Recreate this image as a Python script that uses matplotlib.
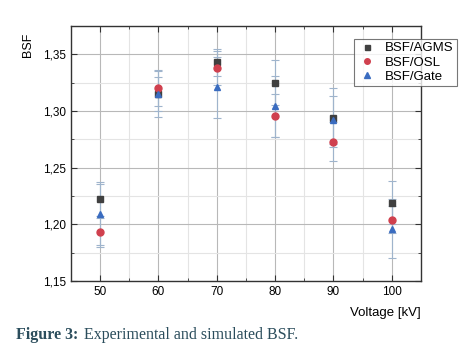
import matplotlib
matplotlib.use("Agg")
import matplotlib.pyplot as plt
from matplotlib.ticker import MultipleLocator, FuncFormatter

voltage = [50, 60, 70, 80, 90, 100]
bsf_agms = [1.222, 1.315, 1.343, 1.325, 1.294, 1.219]
bsf_osl = [1.193, 1.320, 1.338, 1.296, 1.273, 1.204]
bsf_gate = [1.209, 1.315, 1.321, 1.304, 1.292, 1.196]
err_agms = [0.015, 0.020, 0.012, 0.020, 0.026, 0.019]
err_osl = [0.013, 0.016, 0.015, 0.019, 0.017, 0.012]
err_gate = [0.027, 0.015, 0.027, 0.027, 0.021, 0.026]

plt.rcParams['font.family'] = ['Liberation Sans', 'DejaVu Sans']

fig = plt.figure(figsize=(4.75, 3.59), dpi=100)
ax = fig.add_axes([0.1495, 0.2173, 0.7365, 0.7103])

ax.set_xlim(45, 105)
ax.set_ylim(1.15, 1.375)
ax.xaxis.set_major_locator(MultipleLocator(10))
ax.xaxis.set_minor_locator(MultipleLocator(5))
ax.yaxis.set_major_locator(MultipleLocator(0.05))
ax.yaxis.set_minor_locator(MultipleLocator(0.025))
ax.yaxis.set_major_formatter(FuncFormatter(lambda v, p: f"{v:.2f}".replace('.', ',')))

ax.grid(which='major', color='#b8b8b8', lw=0.8)
ax.grid(which='minor', color='#e4e4e4', lw=0.8)
ax.set_axisbelow(True)
ax.tick_params(which='both', direction='in', top=True, right=True, labelsize=8.5, color='#333333')
ax.tick_params(which='major', length=4)
ax.tick_params(which='minor', length=2)
for s in ax.spines.values():
    s.set_color('#333333')
    s.set_linewidth(1.0)

ecol = '#9fb4cc'
ax.errorbar(voltage, bsf_agms, yerr=err_agms, fmt='s', color='#404040', ms=4.5,
            ecolor=ecol, elinewidth=0.8, capsize=3, capthick=0.8, label='BSF/AGMS')
ax.errorbar(voltage, bsf_osl, yerr=err_osl, fmt='o', color='#d0404e', ms=5,
            ecolor=ecol, elinewidth=0.8, capsize=3, capthick=0.8, label='BSF/OSL')
ax.errorbar(voltage, bsf_gate, yerr=err_gate, fmt='^', color='#3a6cc0', ms=5,
            ecolor=ecol, elinewidth=0.8, capsize=3, capthick=0.8, label='BSF/Gate')

handles, labels = ax.get_legend_handles_labels()
handles = [h[0] for h in handles]
leg = ax.legend(handles, labels, loc='upper left', bbox_to_anchor=(0.79, 0.975),
                fontsize=9.5, frameon=True, fancybox=False, edgecolor='#555555',
                handletextpad=0.7, borderpad=0.25, labelspacing=0.15, handlelength=1.4,
                markerscale=0.8)
leg.get_frame().set_linewidth(0.8)

fig.text(0.06, 0.875, 'BSF', rotation=90, fontsize=9, ha='center', va='center')
fig.text(0.886, 0.128, 'Voltage [kV]', fontsize=9.5, ha='right', va='center')

t1 = fig.text(0.034, 0.067, 'Figure 3:', fontsize=11.5, fontweight='bold', color='#2b4d5c',
              family=['Liberation Serif', 'DejaVu Serif'], ha='left', va='center')
ax.annotate('Experimental and simulated BSF.', xy=(1.0, 0.5), xycoords=t1,
            xytext=(4, 0), textcoords='offset points',
            fontsize=11.5, color='#2b4d5c', family=['Liberation Serif', 'DejaVu Serif'],
            ha='left', va='center', annotation_clip=False)

fig.savefig('out.png', dpi=100)
